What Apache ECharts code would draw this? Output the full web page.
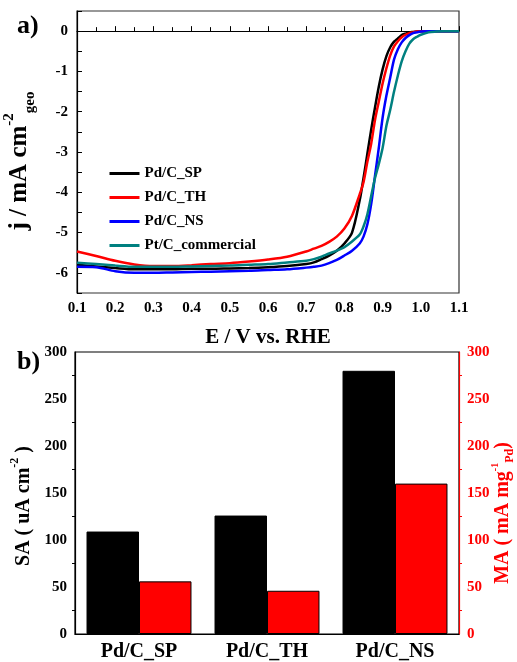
<!DOCTYPE html>
<html>
<head>
<meta charset="utf-8">
<script src="https://cdn.jsdelivr.net/npm/echarts@6/dist/echarts.min.js"></script>
<style>
html,body{margin:0;padding:0;background:#fff;}
#c{width:517px;height:662px;}
</style>
</head>
<body>
<div id="c"></div>
<script>
// ---- Panel a) LSV curves ----
const E = [0.1,0.15,0.2,0.25,0.3,0.35,0.4,0.45,0.5,0.55,0.6,0.65,0.7,0.72,0.74,0.76,0.78,0.8,0.82,0.84,0.85,0.86,0.87,0.88,0.89,0.9,0.91,0.92,0.93,0.94,0.95,0.96,0.97,0.98,0.99,1.0,1.02,1.04,1.06,1.08,1.1];
const pdSP = [-5.80,-5.84,-5.88,-5.91,-5.91,-5.91,-5.90,-5.90,-5.89,-5.88,-5.86,-5.83,-5.78,-5.74,-5.66,-5.57,-5.45,-5.27,-5.00,-4.20,-3.65,-3.05,-2.45,-1.90,-1.38,-0.95,-0.62,-0.40,-0.26,-0.18,-0.10,-0.06,-0.03,-0.02,-0.01,0,0,0,0,0,0];
const pdTH = [-5.47,-5.58,-5.70,-5.79,-5.83,-5.83,-5.81,-5.78,-5.76,-5.72,-5.67,-5.60,-5.47,-5.40,-5.33,-5.23,-5.10,-4.90,-4.58,-4.05,-3.75,-3.25,-2.80,-2.21,-1.75,-1.30,-0.92,-0.60,-0.38,-0.25,-0.15,-0.09,-0.05,-0.03,-0.01,0,0,0,0,0,0];
const pdNS = [-5.85,-5.86,-5.96,-6.00,-6.00,-5.99,-5.98,-5.97,-5.96,-5.95,-5.93,-5.91,-5.87,-5.85,-5.82,-5.76,-5.68,-5.57,-5.45,-5.27,-5.10,-4.80,-4.30,-3.60,-2.90,-2.15,-1.60,-1.15,-0.70,-0.45,-0.28,-0.17,-0.10,-0.05,-0.03,-0.01,0,0,0,0,0];
const ptC  = [-5.75,-5.78,-5.82,-5.85,-5.85,-5.85,-5.84,-5.83,-5.82,-5.80,-5.78,-5.74,-5.70,-5.66,-5.60,-5.52,-5.45,-5.36,-5.22,-5.05,-4.85,-4.55,-4.10,-3.65,-3.30,-2.90,-2.35,-1.95,-1.50,-1.10,-0.75,-0.50,-0.31,-0.20,-0.14,-0.09,-0.03,-0.01,0,0,0];
const lineNames = ['Pd/C_SP','Pd/C_TH','Pd/C_NS','Pt/C_commercial'];
const lineColors = ['#000000','#ff0000','#0000ff','#008080'];

// ---- Panel b) activities ----
const cats = ['Pd/C_SP','Pd/C_TH','Pd/C_NS'];
const SA = [109,126,280];
const MA = [56,46,160];

const FF = '"Liberation Serif","Times New Roman",serif';
const lineData = [pdSP,pdTH,pdNS,ptC];

const chart = echarts.init(document.getElementById('c'), null, {renderer:'canvas'});
const txt = (size, color) => ({fontFamily:FF, fontWeight:'bold', fontSize:size, color:color||'#000'});

const option = {
  animation:false,
  backgroundColor:'#fff',
  graphic:[
    {type:'text', left:17, top:13, style:{text:'a)', font:'bold 26px '+FF, fill:'#000'}},
    {type:'text', left:17, top:349, style:{text:'b)', font:'bold 26px '+FF, fill:'#000'}},
    {type:'text', x:503, y:513, rotation:Math.PI/2, z:100,
     style:{text:'{a|MA ( mA mg}{sup|-1}{sub|Pd}{a|)}', align:'center', verticalAlign:'middle',
       rich:{
         a:{font:'bold 20px '+FF, fill:'#ff0000', lineHeight:26},
         sup:{font:'bold 10px '+FF, fill:'#ff0000', verticalAlign:'top', padding:[0,0,8,0]},
         sub:{font:'bold 12px '+FF, fill:'#ff0000', verticalAlign:'bottom', padding:[8,0,0,0]}
       }}}
  ],
  legend:{
    orient:'vertical', left:103, top:161, itemWidth:30, itemHeight:14, itemGap:9,
    data:lineNames, textStyle:txt(15), itemStyle:{opacity:0}, lineStyle:{width:3}
  },
  grid:[
    {left:77, top:11, width:382, height:282, show:true, borderColor:'#333', borderWidth:1.2,
     backgroundColor:'transparent', containLabel:false, outerBoundsMode:'none'},
    {left:75, top:352, width:384, height:282, show:true, borderColor:'#000', borderWidth:1.2,
     backgroundColor:'transparent', containLabel:false, outerBoundsMode:'none'}
  ],
  xAxis:[
    {type:'value', gridIndex:0, min:0.1, max:1.1, interval:0.1,
     name:'E / V vs. RHE', nameLocation:'middle', nameGap:34, nameTextStyle:txt(21),
     axisLine:{lineStyle:{color:'#000', width:1.2}},
     axisTick:{inside:true, length:5, lineStyle:{color:'#000'}},
     minorTick:{show:true, splitNumber:2, length:4, lineStyle:{color:'#000'}},
     splitLine:{show:false},
     axisLabel:Object.assign(txt(15),{margin:8, formatter:v=>v.toFixed(1)})},
    {type:'category', gridIndex:1, data:cats,
     axisLine:{lineStyle:{color:'#000', width:1.2}},
     axisTick:{show:false},
     axisLabel:Object.assign(txt(20),{margin:8})}
  ],
  yAxis:[
    {type:'value', gridIndex:0, min:-6.5, max:0.5, interval:0.5,
     name:'{a|j / mA cm}{sup|-2}{sub|geo}', nameLocation:'middle', nameRotate:90, nameGap:39,
     nameTextStyle:{padding:[0,18,0,0], rich:{
       a:{fontFamily:FF, fontWeight:'bold', fontSize:25, color:'#000', lineHeight:36},
       sup:{fontFamily:FF, fontWeight:'bold', fontSize:15, color:'#000', verticalAlign:'top', padding:[0,0,15,0]},
       sub:{fontFamily:FF, fontWeight:'bold', fontSize:15, color:'#000', verticalAlign:'bottom', padding:[12,0,0,0]}
     }},
     axisLine:{show:true, lineStyle:{color:'#000', width:1.2}},
     axisTick:{inside:true, length:5, lineStyle:{color:'#000'}},
     splitLine:{show:false},
     axisLabel:Object.assign(txt(15),{margin:9, formatter:v=>{
       const r=Math.round(v); return Math.abs(v-r)<1e-6 ? String(r===0?0:r) : '';}})},
    {type:'value', gridIndex:1, min:0, max:300, interval:50, position:'left',
     name:'{a|SA ( uA cm}{sup|-2}{a| )}', nameLocation:'middle', nameRotate:90, nameGap:34,
     nameTextStyle:{padding:[0,0,0,-26], rich:{
       a:{fontFamily:FF, fontWeight:'bold', fontSize:20, color:'#000', lineHeight:30},
       sup:{fontFamily:FF, fontWeight:'bold', fontSize:12, color:'#000', verticalAlign:'top', padding:[0,0,10,0]}
     }},
     axisLine:{show:true, lineStyle:{color:'#000', width:1.2}},
     axisTick:{inside:false, length:5, lineStyle:{color:'#000'}},
     minorTick:{show:true, splitNumber:2, length:3, lineStyle:{color:'#000'}},
     splitLine:{show:false},
     axisLabel:Object.assign(txt(15),{margin:8})},
    {type:'value', gridIndex:1, min:0, max:300, interval:50, position:'right',
     axisLine:{show:true, lineStyle:{color:'#ff0000', width:1.2}},
     axisTick:{inside:false, length:5, lineStyle:{color:'#ff0000'}},
     minorTick:{show:true, splitNumber:2, length:3, lineStyle:{color:'#ff0000'}},
     splitLine:{show:false},
     axisLabel:Object.assign(txt(15,'#ff0000'),{margin:8})}
  ],
  series:[
    ...lineNames.map((n,k)=>({
      name:n, type:'line', xAxisIndex:0, yAxisIndex:0, symbol:'none', smooth:0.3,
      lineStyle:{color:lineColors[k], width:2.5}, itemStyle:{color:lineColors[k]},
      data:E.map((e,i)=>[e, lineData[k][i]])
    })),
    {name:'SA', type:'bar', xAxisIndex:1, yAxisIndex:1, data:SA, barWidth:'41%', barGap:'0%',
     itemStyle:{color:'#000', borderColor:'#000', borderWidth:1}},
    {name:'MA', type:'bar', xAxisIndex:1, yAxisIndex:2, data:MA, barWidth:'41%', barGap:'0%',
     itemStyle:{color:'#ff0000', borderColor:'#000', borderWidth:1}}
  ]
};
chart.setOption(option);
</script>
</body>
</html>
